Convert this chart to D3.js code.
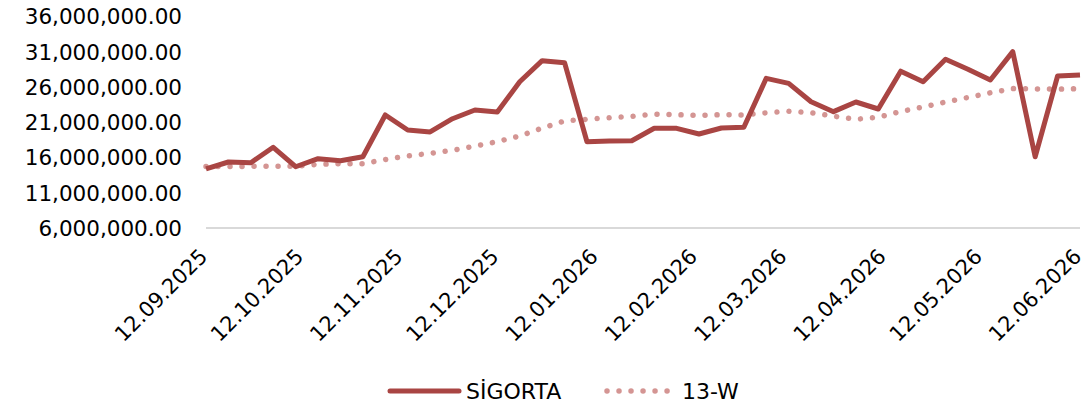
<!DOCTYPE html>
<html>
<head>
<meta charset="utf-8">
<script src="https://cdn.jsdelivr.net/npm/d3@7"></script>
<style>
  html, body { margin: 0; padding: 0; background: #fff; }
  svg { display: block; font-family: "DejaVu Sans", sans-serif; }
</style>
</head>
<body>
<svg id="chart" width="1089" height="409"></svg>
<script>
const dates = [
  "12.09.2025","19.09.2025","26.09.2025","03.10.2025","10.10.2025","17.10.2025","24.10.2025","31.10.2025",
  "07.11.2025","14.11.2025","21.11.2025","28.11.2025","05.12.2025","12.12.2025","19.12.2025","26.12.2025",
  "02.01.2026","09.01.2026","16.01.2026","23.01.2026","30.01.2026","06.02.2026","13.02.2026","20.02.2026",
  "27.02.2026","06.03.2026","13.03.2026","20.03.2026","27.03.2026","03.04.2026","10.04.2026","17.04.2026",
  "24.04.2026","01.05.2026","08.05.2026","15.05.2026","22.05.2026","29.05.2026","05.06.2026","12.06.2026"
];
const sigorta = [
  14300000, 15290000, 15190000, 17380000, 14620000, 15760000, 15470000, 16040000,
  21960000, 19830000, 19550000, 21430000, 22670000, 22380000, 26680000, 29660000,
  29380000, 18170000, 18270000, 18310000, 20070000, 20070000, 19260000, 20110000,
  20210000, 27160000, 26450000, 23840000, 22430000, 23800000, 22810000, 28170000,
  26680000, 29860000, 28440000, 26920000, 30940000, 16040000, 27490000, 27630000
];
const w13 = [
  14650000, 14650000, 14680000, 14680000, 14680000, 14960000, 15050000, 15050000,
  15650000, 16140000, 16520000, 16950000, 17530000, 18180000, 18980000, 20110000,
  21110000, 21350000, 21560000, 21770000, 22070000, 22000000, 21910000, 22000000,
  21960000, 22270000, 22480000, 22280000, 21790000, 21350000, 21630000, 22450000,
  23090000, 23800000, 24440000, 25110000, 25700000, 25660000, 25620000, 25690000
];
const xTickLabels = ["12.09.2025","12.10.2025","12.11.2025","12.12.2025","12.01.2026",
  "12.02.2026","12.03.2026","12.04.2026","12.05.2026","12.06.2026"];
const yTicks = [6000000, 11000000, 16000000, 21000000, 26000000, 31000000, 36000000];
const seriesNames = ["SİGORTA", "13-W"];

const parse = d3.timeParse("%d.%m.%Y");
const fmtDate = d3.timeFormat("%d.%m.%Y");
const svg = d3.select("#chart");

const x = d3.scaleTime()
  .domain([parse(xTickLabels[0]), parse(xTickLabels[xTickLabels.length - 1])])
  .range([206, 1080]);
const y = d3.scaleLinear().domain([6000000, 36000000]).range([227.5, 16]);

const solidColor = "#A94543";
const dotColor = "#D49593";
const fontSize = 22;

// bottom axis line
svg.append("line")
  .attr("x1", x.range()[0]).attr("x2", x.range()[1])
  .attr("y1", y(6000000) + 0.5).attr("y2", y(6000000) + 0.5)
  .attr("stroke", "#d9d9d9").attr("stroke-width", 2);

// y labels
const yAxis = d3.axisLeft(y).tickValues(yTicks).tickFormat(d3.format(",.2f")).tickSize(0).tickPadding(0);
const gy = svg.append("g").attr("transform", "translate(182,0)").call(yAxis);
gy.select(".domain").remove();
gy.selectAll("text").attr("font-size", 21.5).attr("fill", "#000")
  .attr("font-family", "DejaVu Sans, sans-serif").attr("dy", "0.36em");

// x labels
const xAxis = d3.axisBottom(x).tickValues(xTickLabels.map(parse)).tickFormat(fmtDate).tickSize(0).tickPadding(0);
const gx = svg.append("g").attr("transform", "translate(0,232)").call(xAxis);
gx.select(".domain").remove();
gx.selectAll("text").attr("font-size", 21).attr("fill", "#000")
  .attr("font-family", "DejaVu Sans, sans-serif")
  .attr("text-anchor", "end")
  .attr("y", 0).attr("dy", "0.7em").attr("dx", "0.25em")
  .attr("transform", "translate(-12,19) rotate(-45)");

const pts = dates.map(parse);

const line = d3.line().x((d, i) => x(pts[i])).y(d => y(d));

svg.append("path").datum(w13)
  .attr("d", line)
  .attr("fill", "none").attr("stroke", dotColor)
  .attr("stroke-width", 5.5).attr("stroke-linecap", "round")
  .attr("stroke-dasharray", "0.01 12");

svg.append("path").datum(sigorta)
  .attr("d", line)
  .attr("fill", "none").attr("stroke", solidColor)
  .attr("stroke-width", 5).attr("stroke-linejoin", "round").attr("stroke-linecap", "butt");

// legend
const lg = svg.append("g");
lg.append("line").attr("x1", 390).attr("x2", 459).attr("y1", 391).attr("y2", 391)
  .attr("stroke", solidColor).attr("stroke-width", 5).attr("stroke-linecap", "round");
lg.append("text").attr("x", 466).attr("y", 391).attr("dy", "0.36em")
  .attr("font-size", fontSize).attr("fill", "#000").text(seriesNames[0]);
lg.append("line").attr("x1", 607).attr("x2", 668).attr("y1", 391).attr("y2", 391)
  .attr("stroke", dotColor).attr("stroke-width", 5.5).attr("stroke-linecap", "round")
  .attr("stroke-dasharray", "0.01 12");
lg.append("text").attr("x", 682).attr("y", 391).attr("dy", "0.36em")
  .attr("font-size", fontSize).attr("fill", "#000").text(seriesNames[1]);
</script>
</body>
</html>
